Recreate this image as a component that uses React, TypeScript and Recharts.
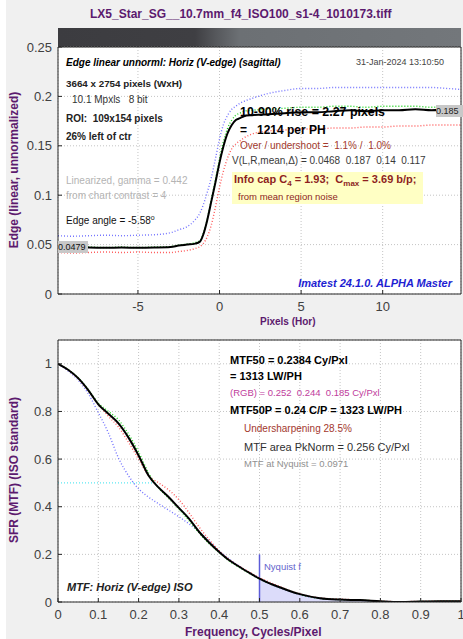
import React from "react";
import {
  Area,
  CartesianGrid,
  ComposedChart,
  Line,
  ReferenceLine,
  XAxis,
  YAxis,
} from "recharts";

const FONT = '"Liberation Sans", Arial, Helvetica, sans-serif';
const PURPLE = "#5c1a6e";
const AXIS = "#262626";
const TICK = "#404040";
const GRID = "#c4c4c4";

// edge profile (top plot), x in pixels from the edge
const edgePx = [
  -9.9, -9, -8, -7, -6, -5, -4, -3, -2.5, -2, -1.5, -1.2, -1, -0.75, -0.5, -0.25, 0, 0.25, 0.5,
  0.75, 1, 1.25, 1.5, 2, 3, 4, 5, 6, 7, 8, 9, 10, 11, 12, 13, 14, 14.8,
];
const edgeBlack = [
  0.047, 0.0465, 0.047, 0.0468, 0.047, 0.0468, 0.047, 0.0475, 0.049, 0.05, 0.051, 0.053, 0.06,
  0.075, 0.094, 0.113, 0.133, 0.15, 0.163, 0.171, 0.176, 0.178, 0.18, 0.181, 0.182, 0.183, 0.184,
  0.184, 0.185, 0.186, 0.185, 0.186, 0.186, 0.187, 0.186, 0.187, 0.187,
];
const edgeGreen = [
  0.0475, 0.047, 0.0475, 0.047, 0.0475, 0.047, 0.0475, 0.048, 0.0495, 0.0505, 0.052, 0.054,
  0.061, 0.076, 0.096, 0.116, 0.137, 0.155, 0.168, 0.176, 0.181, 0.183, 0.185, 0.186, 0.187,
  0.188, 0.189, 0.189, 0.19, 0.19, 0.189, 0.19, 0.19, 0.19, 0.189, 0.19, 0.189,
];
const edgeRed = [
  0.042, 0.0415, 0.042, 0.0425, 0.042, 0.0425, 0.042, 0.042, 0.043, 0.044, 0.046, 0.048, 0.051,
  0.058, 0.07, 0.088, 0.108, 0.125, 0.138, 0.147, 0.152, 0.155, 0.158, 0.162, 0.165, 0.166, 0.167,
  0.167, 0.168, 0.168, 0.169, 0.169, 0.17, 0.17, 0.171, 0.171, 0.171,
];
const edgeBlue = [
  0.059, 0.0585, 0.059, 0.0595, 0.059, 0.0595, 0.06, 0.062, 0.065, 0.068, 0.075, 0.082, 0.09,
  0.103, 0.118, 0.137, 0.157, 0.172, 0.181, 0.187, 0.19, 0.193, 0.195, 0.198, 0.203, 0.206, 0.208,
  0.208, 0.209, 0.209, 0.209, 0.209, 0.209, 0.209, 0.209, 0.208, 0.207,
];
const edgeXTicks = [-5, 0, 5, 10];
const edgeYTicks = [0, 0.05, 0.1, 0.15, 0.2, 0.25];

// MTF (bottom plot), cycles/pixel
const freq = [
  0, 0.025, 0.05, 0.075, 0.1, 0.125, 0.15, 0.175, 0.2, 0.225, 0.25, 0.275, 0.3, 0.325, 0.35, 0.375,
  0.4, 0.425, 0.45, 0.475, 0.5, 0.525, 0.55, 0.575, 0.6, 0.65, 0.7, 0.75, 0.8, 0.85, 0.9, 0.95, 1,
];
const mtfBlack = [
  1, 0.975, 0.94, 0.89, 0.83, 0.79, 0.75, 0.69, 0.615, 0.53, 0.48, 0.44, 0.395, 0.35, 0.295, 0.25,
  0.21, 0.175, 0.148, 0.122, 0.098, 0.078, 0.062, 0.046, 0.033, 0.016, 0.01, 0.008, 0.003, 0,
  0.002, 0.003, 0.003,
];
const mtfGreen = [
  1, 0.976, 0.942, 0.892, 0.835, 0.8, 0.765, 0.705, 0.63, 0.54, 0.478, 0.435, 0.39, 0.342, 0.29,
  0.245, 0.207, 0.172, 0.145, 0.12, 0.097, 0.077, 0.061, 0.046, 0.032, 0.015, 0.01, 0.008, 0.003,
  0, 0.002, 0.003, 0.003,
];
const mtfRed = [
  1, 0.974, 0.938, 0.888, 0.832, 0.78, 0.735, 0.67, 0.6, 0.53, 0.5, 0.47, 0.43, 0.375, 0.315,
  0.262, 0.215, 0.178, 0.15, 0.125, 0.102, 0.083, 0.065, 0.048, 0.034, 0.017, 0.012, 0.008, 0.004,
  0.001, 0.003, 0.004, 0.004,
];
const mtfBlue = [
  1, 0.97, 0.932, 0.875, 0.795, 0.71, 0.605, 0.53, 0.475, 0.44, 0.412, 0.385, 0.358, 0.328, 0.295,
  0.255, 0.215, 0.18, 0.15, 0.122, 0.098, 0.078, 0.06, 0.045, 0.031, 0.015, 0.01, 0.007, 0.003,
  0.001, 0.002, 0.003, 0.003,
];
const mtfXTicks = [0, 0.1, 0.2, 0.3, 0.4, 0.5, 0.6, 0.7, 0.8, 0.9, 1];
const mtfYTicks = [0, 0.2, 0.4, 0.6, 0.8, 1];
const mtf50 = 0.2384;
const nyquist = 0.5;

const edgeData = edgePx.map((p, i) => ({
  p,
  black: edgeBlack[i],
  green: edgeGreen[i],
  red: edgeRed[i],
  blue: edgeBlue[i],
}));

const mtfData = freq.map((f, i) => ({
  f,
  black: mtfBlack[i],
  green: mtfGreen[i],
  red: mtfRed[i],
  blue: mtfBlue[i],
  nyq: f >= nyquist ? mtfBlack[i] : null,
}));

type TProps = {
  x: number;
  y: number;
  size?: number;
  color?: string;
  bold?: boolean;
  italic?: boolean;
  right?: boolean;
  children: React.ReactNode;
};

function T({ x, y, size = 10, color = "#000", bold, italic, right, children }: TProps) {
  return (
    <div
      style={{
        position: "absolute",
        left: right ? undefined : x,
        right: right ? 463 - x : undefined,
        top: y - size / 2,
        fontSize: size,
        lineHeight: 1,
        color,
        fontWeight: bold ? "bold" : "normal",
        fontStyle: italic ? "italic" : "normal",
        whiteSpace: "pre",
        pointerEvents: "none",
      }}
    >
      {children}
    </div>
  );
}

function VTitle({ x, y, children }: { x: number; y: number; children: React.ReactNode }) {
  return (
    <div
      style={{
        position: "absolute",
        left: x,
        top: y,
        transform: "translate(-50%, -50%) rotate(-90deg)",
        fontSize: 12,
        fontWeight: "bold",
        color: PURPLE,
        whiteSpace: "pre",
        lineHeight: 1,
      }}
    >
      {children}
    </div>
  );
}

const tickStyle = { fill: TICK, fontSize: 13, fontFamily: FONT };

const dotted = { strokeDasharray: "1 2", strokeWidth: 1.4, dot: false } as const;

export default function App() {
  return (
    <div
      style={{
        position: "absolute",
        left: 0,
        top: 0,
        width: 463,
        height: 639,
        background: "#f0f0f0",
        fontFamily: FONT,
        overflow: "hidden",
      }}
    >
      <div style={{ position: "absolute", left: 0, top: 0, width: 6, height: 639, background: "#fff" }} />

      <T x={260} y={14} size={12} bold color={PURPLE}>
        <span style={{ position: "relative", left: -170 }}>LX5_Star_SG__10.7mm_f4_ISO100_s1-4_1010173.tiff</span>
      </T>

      {/* edge image strip */}
      <div
        style={{
          position: "absolute",
          left: 58,
          top: 28,
          width: 403,
          height: 19,
          background:
            "linear-gradient(to right, #3c3c40 0%, #3f3f43 34%, #55575b 39%, #6c7074 45%, #73777b 100%)",
        }}
      />

      <div style={{ position: "absolute", left: 0, top: 0 }}>
        <ComposedChart width={463} height={330} data={edgeData} margin={{ top: 46, right: 1, bottom: 0, left: 0 }}>
          <CartesianGrid fill="#fff" stroke={GRID} strokeDasharray="1 2" />
          <XAxis
            dataKey="p"
            type="number"
            domain={[-9.9, 14.8]}
            ticks={edgeXTicks}
            allowDataOverflow
            interval={0}
            height={36}
            tickSize={-4}
            tickMargin={12}
            stroke={AXIS}
            tick={tickStyle}
          />
          <XAxis
            xAxisId="top"
            orientation="top"
            dataKey="p"
            type="number"
            domain={[-9.9, 14.8]}
            ticks={edgeXTicks}
            allowDataOverflow
            interval={0}
            height={1}
            tickSize={-4}
            tick={false}
            stroke={AXIS}
          />
          <YAxis
            type="number"
            domain={[0, 0.25]}
            ticks={edgeYTicks}
            interval={0}
            width={58}
            tickSize={-4}
            tickMargin={10}
            stroke={AXIS}
            tick={tickStyle}
          />
          <YAxis
            yAxisId="right"
            orientation="right"
            type="number"
            domain={[0, 0.25]}
            ticks={edgeYTicks}
            interval={0}
            width={1}
            tickSize={-4}
            tick={false}
            stroke={AXIS}
          />
          <Line dataKey="blue" type="monotone" stroke="#7474ff" {...dotted} isAnimationActive={false} />
          <Line dataKey="red" type="monotone" stroke="#ff5a5a" {...dotted} isAnimationActive={false} />
          <Line dataKey="green" type="monotone" stroke="#1ed21e" {...dotted} isAnimationActive={false} />
          <Line dataKey="black" type="monotone" stroke="#000" strokeWidth={2} dot={false} isAnimationActive={false} />
        </ComposedChart>
      </div>

      <div style={{ position: "absolute", left: 0, top: 330 }}>
        <ComposedChart width={463} height={309} data={mtfData} margin={{ top: 9, right: 1, bottom: 0, left: 0 }}>
          <CartesianGrid fill="#fff" stroke={GRID} strokeDasharray="1 2" />
          <XAxis
            dataKey="f"
            type="number"
            domain={[0, 1]}
            ticks={mtfXTicks}
            allowDataOverflow
            interval={0}
            height={37}
            tickSize={-4}
            tickMargin={12}
            stroke={AXIS}
            tick={tickStyle}
          />
          <XAxis
            xAxisId="top"
            orientation="top"
            dataKey="f"
            type="number"
            domain={[0, 1]}
            ticks={mtfXTicks}
            allowDataOverflow
            interval={0}
            height={1}
            tickSize={-4}
            tick={false}
            stroke={AXIS}
          />
          <YAxis
            type="number"
            domain={[0, 1.1]}
            ticks={mtfYTicks}
            allowDataOverflow
            interval={0}
            width={58}
            tickSize={-4}
            tickMargin={10}
            stroke={AXIS}
            tick={tickStyle}
          />
          <YAxis
            yAxisId="right"
            orientation="right"
            type="number"
            domain={[0, 1.1]}
            ticks={mtfYTicks}
            interval={0}
            width={1}
            tickSize={-4}
            tick={false}
            stroke={AXIS}
          />
          <Area
            dataKey="nyq"
            type="monotone"
            fill="#dcdcfa"
            fillOpacity={1}
            stroke="none"
            baseValue={0}
            isAnimationActive={false}
          />
          <ReferenceLine
            segment={[
              { x: 0, y: 0.5 },
              { x: mtf50, y: 0.5 },
            ]}
            stroke="#5ee8f2"
            strokeDasharray="1 2"
            strokeWidth={1.2}
          />
          <ReferenceLine
            segment={[
              { x: nyquist, y: 0 },
              { x: nyquist, y: 0.2 },
            ]}
            stroke="#5c5cd8"
            strokeWidth={1.5}
          />
          <Line dataKey="blue" type="monotone" stroke="#7474ff" {...dotted} isAnimationActive={false} />
          <Line dataKey="red" type="monotone" stroke="#ff5a5a" {...dotted} isAnimationActive={false} />
          <Line dataKey="green" type="monotone" stroke="#1ed21e" {...dotted} isAnimationActive={false} />
          <Line dataKey="black" type="monotone" stroke="#000" strokeWidth={2} dot={false} isAnimationActive={false} />
        </ComposedChart>
      </div>

      {/* axis titles */}
      <VTitle x={14} y={170}>Edge (linear, unnormalized)</VTitle>
      <VTitle x={14} y={470}>SFR (MTF) (ISO standard)</VTitle>
      <T x={260} y={322} size={10} bold color={PURPLE}>Pixels (Hor)</T>
      <T x={185} y={632} size={12} bold color={PURPLE}>Frequency, Cycles/Pixel</T>

      {/* top plot annotations */}
      <T x={66} y={63} size={10} bold italic>Edge linear unnorml: Horiz (V-edge) (sagittal)</T>
      <T x={356} y={62} size={9} color="#444">31-Jan-2024 13:10:50</T>
      <T x={66} y={84} size={9.8} bold color="#222">3664 x 2754 pixels (WxH)</T>
      <T x={72} y={100} size={10} color="#333">10.1 Mpxls   8 bit</T>
      <T x={66} y={119} size={10} bold color="#222">ROI:  109x154 pixels</T>
      <T x={66} y={137} size={10} bold color="#222">26% left of ctr</T>
      <T x={66} y={181} size={10} color="#b4b4b4">Linearized, gamma = 0.442</T>
      <T x={66} y={196} size={10} color="#b4b4b4">from chart contrast = 4</T>
      <T x={66} y={219} size={10} color="#111">
        Edge angle = -5.58<sup style={{ fontSize: 7, verticalAlign: "4px" }}>o</sup>
      </T>
      <T x={240} y={112} size={12.4} bold>10-90% rise = 2.27 pixels</T>
      <T x={240} y={130} size={12} bold>=   1214 per PH</T>
      <T x={240} y={146} size={10} color="#a33a2e">Over / undershoot =  1.1% /  1.0%</T>
      <T x={232} y={161} size={10} color="#3a3a3a">V(L,R,mean,Δ) = 0.0468  0.187  0.14  0.117</T>
      <div style={{ position: "absolute", left: 232, top: 172, width: 191, height: 32, background: "#ffffc4" }} />
      <T x={234} y={179} size={11} bold color="#8e1f1f">
        Info cap C<span style={{ fontSize: 8, verticalAlign: "-3px" }}>4</span> = 1.93;  C
        <span style={{ fontSize: 8, verticalAlign: "-3px" }}>max</span> = 3.69 b/p;
      </T>
      <T x={238} y={197} size={9.5} color="#8e1f1f">from mean region noise</T>
      <T x={452} y={283} size={11} bold italic color="#1e1ed2" right>Imatest 24.1.0. ALPHA Master</T>

      <div
        style={{
          position: "absolute",
          left: 58,
          top: 241,
          width: 30,
          height: 12,
          background: "#c8c8c8",
          fontSize: 9,
          lineHeight: "12px",
          color: "#111",
        }}
      >
        0.0479
      </div>
      <div
        style={{
          position: "absolute",
          left: 436,
          top: 105,
          width: 27,
          height: 12,
          background: "#c8c8c8",
          fontSize: 9,
          lineHeight: "12px",
          color: "#222",
        }}
      >
        0.185
      </div>

      {/* MTF annotations */}
      <T x={230} y={360} size={11} bold>MTF50 = 0.2384 Cy/Pxl</T>
      <T x={230} y={376} size={11} bold>= 1313 LW/PH</T>
      <T x={230} y={393} size={9.5} color="#c03c9c">(RGB) = 0.252  0.244  0.185 Cy/Pxl</T>
      <T x={230} y={410} size={11} bold>MTF50P = 0.24 C/P = 1323 LW/PH</T>
      <T x={244} y={429} size={10} color="#a3382e">Undersharpening 28.5%</T>
      <T x={244} y={447} size={11} color="#303030">MTF area PkNorm = 0.256 Cy/Pxl</T>
      <T x={244} y={464} size={9.5} color="#909090">MTF at Nyquist = 0.0971</T>
      <T x={67} y={587} size={11} bold italic color="#222">MTF: Horiz (V-edge) ISO</T>
      <T x={264} y={567} size={9.5} color="#6464cc">Nyquist f</T>
    </div>
  );
}
